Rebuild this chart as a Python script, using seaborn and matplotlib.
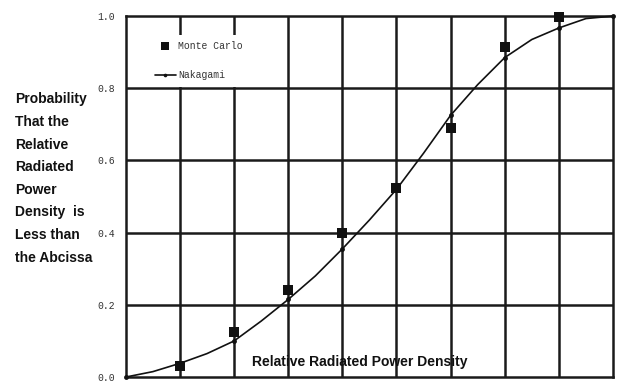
import matplotlib
matplotlib.use("Agg")
import matplotlib.pyplot as plt
from matplotlib.patches import Rectangle
import seaborn as sns
import pandas as pd

# Relative radiated power density (grid units) and cumulative probabilities
x_mc = [1, 2, 3, 4, 5, 6, 7, 8]
p_monte_carlo = [0.03, 0.125, 0.24, 0.40, 0.525, 0.69, 0.915, 0.997]

x_curve = [0, 0.5, 1, 1.5, 2, 2.5, 3, 3.5, 4, 4.5, 5, 5.5, 6, 6.5, 7, 7.5, 8, 8.5, 9]
p_nakagami = [0.0, 0.015, 0.038, 0.065, 0.10, 0.155, 0.215, 0.28, 0.355, 0.435,
              0.52, 0.62, 0.725, 0.81, 0.885, 0.935, 0.967, 0.993, 1.0]

y_ticks = [0.0, 0.2, 0.4, 0.6, 0.8, 1.0]
y_labels = ["0.0", "0.2", "0.4", "0.6", "0.8", "1.0"]

ylabel_text = ("Probability\nThat the\nRelative\nRadiated\nPower\n"
               "Density  is\nLess than\nthe Abcissa")
xlabel_text = "Relative Radiated Power Density"

sns.set_style("white")
plt.rcParams["font.family"] = ["Liberation Sans", "DejaVu Sans"]

fig = plt.figure(figsize=(6.17, 3.82), dpi=100)
ax = fig.add_axes([0.204, 0.013, 0.7895, 0.945])

df_curve = pd.DataFrame({"x": x_curve, "p": p_nakagami})
df_mc = pd.DataFrame({"x": x_mc, "p": p_monte_carlo})

ax.set_xlim(0, 9)
ax.set_ylim(0, 1.0)

# grid
for gx in range(1, 9):
    ax.axvline(gx, color="#1a1a1a", lw=1.8, zorder=1)
for gy in y_ticks[1:-1]:
    ax.axhline(gy, color="#1a1a1a", lw=1.8, zorder=1)
for s in ax.spines.values():
    s.set_color("#1a1a1a")
    s.set_linewidth(1.8)

# white panel behind the key, blanking the grid there
ax.add_patch(Rectangle((0.003, 0.8045), 0.31, 0.1425, transform=ax.transAxes,
                       facecolor="white", edgecolor="none", zorder=2))

sns.lineplot(data=df_curve, x="x", y="p", ax=ax, color="#111111", lw=1.2,
             marker="o", markersize=3.5, markevery=2, markeredgewidth=0,
             label="Nakagami", zorder=3, clip_on=False)
sns.scatterplot(data=df_mc, x="x", y="p", ax=ax, marker="s", s=55,
                color="#111111", edgecolor="#111111", linewidth=0,
                label="Monte Carlo", zorder=4, clip_on=False)

ax.set_xticks([])
ax.set_yticks(y_ticks)
ax.set_yticklabels(y_labels, family="Liberation Mono", fontsize=7,
                   color="#333333")
ax.tick_params(axis="y", length=0, pad=8)
ax.set_xlabel("")
ax.set_ylabel("")

handles, labels = ax.get_legend_handles_labels()
order = [labels.index("Monte Carlo"), labels.index("Nakagami")]
leg = ax.legend([handles[i] for i in order], [labels[i] for i in order],
                loc="upper left", bbox_to_anchor=(0.041, 0.956), frameon=False,
                prop={"family": "Liberation Mono", "size": 7},
                labelspacing=2.0, handlelength=2.2, handletextpad=0.2,
                markerscale=0.75)
for t in leg.get_texts():
    t.set_color("#333333")

fig.text(0.024, 0.758, ylabel_text, ha="left", va="top", fontsize=10,
         fontweight="bold", linespacing=1.78, color="#111111")
ax.text(4.33, 0.042, xlabel_text, ha="center", va="center", fontsize=10,
        fontweight="bold", color="#111111", zorder=5)

fig.savefig("out.png", dpi=100)
